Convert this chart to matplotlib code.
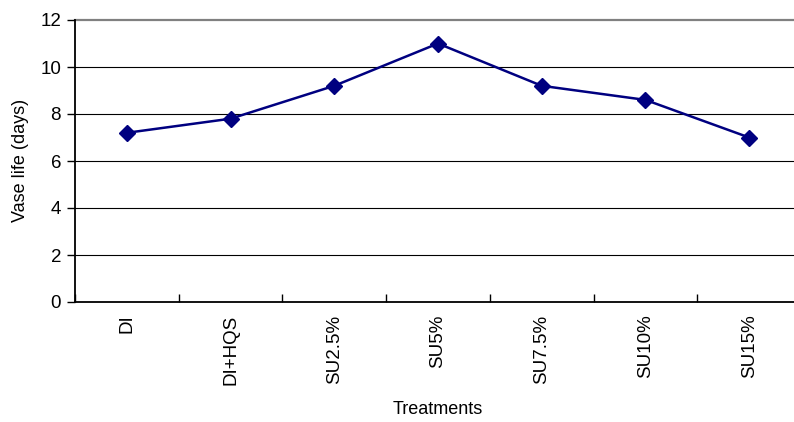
import matplotlib
matplotlib.use("Agg")
import matplotlib.pyplot as plt
import numpy as np

treatments = ['DI', 'DI+HQS', 'SU2.5%', 'SU5%', 'SU7.5%', 'SU10%', 'SU15%']
vase_life = [7.2, 7.8, 9.2, 11.0, 9.2, 8.6, 7.0]
y_ticks = [0, 2, 4, 6, 8, 10, 12]

plt.rcParams['font.family'] = ['Liberation Sans', 'DejaVu Sans']

fig = plt.figure(figsize=(7.94, 4.22), dpi=100)
W, H = 794, 422
# axes box in pixels: left 75, bottom 302, top 20, categories ~103.7 px wide
ax = fig.add_axes([75 / W, (H - 302) / H, 726 / W, (302 - 20) / H])

x = np.arange(len(treatments))
ax.set_xlim(-0.5, len(treatments) - 0.5)
ax.set_ylim(0, 12)

# horizontal grid, top line drawn grey
for v in y_ticks[1:-1]:
    ax.axhline(v, color='black', lw=0.8, zorder=1)
ax.axhline(12, color='#808080', lw=1.6, zorder=1, clip_on=False)

ax.plot(x, vase_life, color='#000080', lw=1.8, marker='D', markersize=8,
        markerfacecolor='#000080', markeredgecolor='#000080', zorder=3)

for side in ['top', 'right']:
    ax.spines[side].set_visible(False)
ax.spines['left'].set_linewidth(1.3)
ax.spines['bottom'].set_linewidth(1.3)

ax.set_yticks(y_ticks)
ax.tick_params(axis='y', direction='out', length=6, width=1, labelsize=13.5, pad=4)

# category boundaries carry the ticks, names sit at the centers
ax.set_xticks(np.arange(len(treatments) + 1) - 0.5)
ax.set_xticklabels([])
ax.tick_params(axis='x', direction='in', length=6, width=1)
ax.set_xticks(x, minor=True)
ax.set_xticklabels(treatments, minor=True, rotation=90, fontsize=13.5)
ax.tick_params(axis='x', which='minor', length=0, pad=9)

ax.set_ylabel('Vase life (days)', fontsize=13, va='center')
ax.yaxis.set_label_coords((21 - 75) / 726, (302 - 160) / 282)
ax.set_xlabel('Treatments', fontsize=13, va='center')
ax.xaxis.set_label_coords((438 - 75) / 726, -(410 - 302) / 282)

fig.savefig('out.png', dpi=100)
